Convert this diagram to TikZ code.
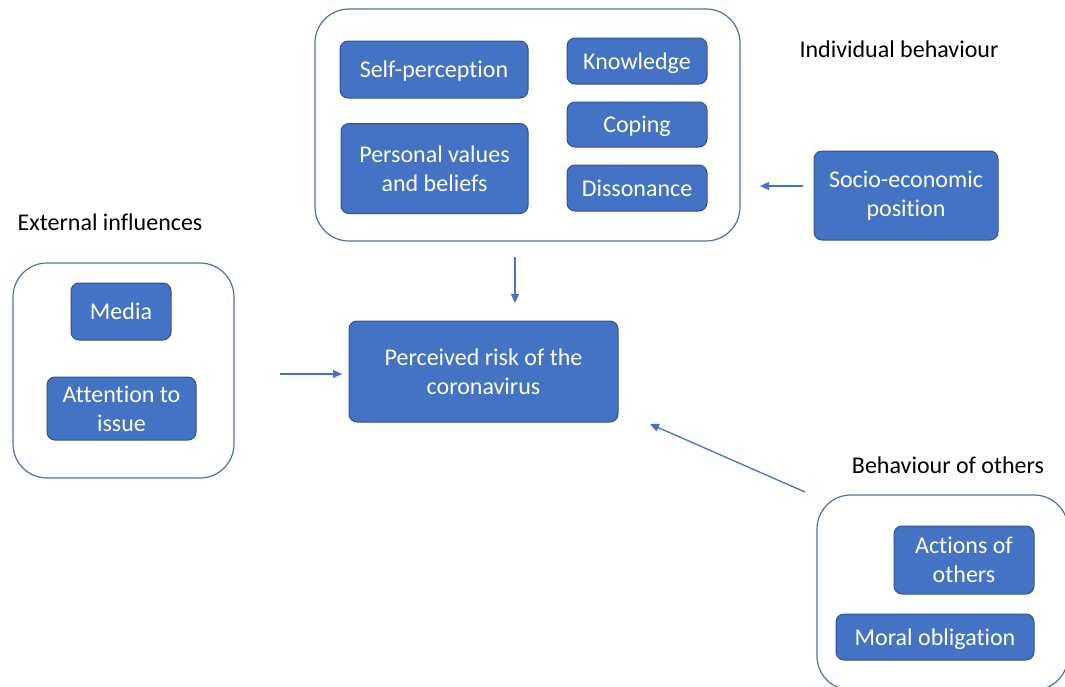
\documentclass[tikz,border=0pt]{standalone}
\usepackage{fontspec}
\setmainfont[Ligatures=NoCommon]{Carlito}
\usetikzlibrary{arrows.meta}
\definecolor{boxfill}{HTML}{4472C4}
\definecolor{boxline}{HTML}{2F528F}
\definecolor{contline}{HTML}{4A6FB0}
\definecolor{arr}{HTML}{4472C4}
\tikzset{
  box/.style={draw=boxline, line width=1pt, fill=boxfill, rounded corners=8pt, text=white,
    font=\fontsize{24}{29}\selectfont, align=center, inner sep=0pt},
  onebox/.style={box, text height=22.8pt, text depth=6.4pt},
  cont/.style={draw=contline, line width=1.2pt, rounded corners=34pt},
  lbl/.style={font=\fontsize{24}{29}\selectfont, text=black, inner sep=0pt,
    text height=22.8pt, text depth=6.4pt},
  conn/.style={draw=arr, line width=1.3pt, -{Triangle[length=9pt,width=8pt]}},
}
\begin{document}
\begin{tikzpicture}[x=1pt,y=-1pt]
\useasboundingbox (0,0) rectangle (1065,686);
\clip (0,0) rectangle (1065,686);
% containers
\draw[cont] (315,9) rectangle (740,241);
\draw[cont] (13,263) rectangle (234,478);
\draw[cont] (817,495) rectangle (1068,690);
% boxes
\node[onebox, minimum width=188pt, minimum height=57pt] (self) at (434,69.5) {Self-perception};
\node[box, minimum width=187pt, minimum height=90pt] (pers) at (434.5,168.5) {Personal values\\and beliefs};
\node[onebox, minimum width=140pt, minimum height=46pt] (know) at (637,61) {Knowledge};
\node[onebox, minimum width=140pt, minimum height=45pt] (cop) at (637,124.5) {Coping};
\node[onebox, minimum width=140pt, minimum height=46pt] (diss) at (637,188) {Dissonance};
\node[box, minimum width=184pt, minimum height=89pt] (socio) at (906,195.5) {Socio-economic\\position};
\node[box, minimum width=269pt, minimum height=101pt] (risk) at (483.5,371.5) {Perceived risk of the\\coronavirus};
\node[onebox, minimum width=100pt, minimum height=57pt] (media) at (121,311.5) {Media};
\node[box, minimum width=149pt, minimum height=63pt] (att) at (121.5,408.5) {Attention to\\issue};
\node[box, minimum width=140pt, minimum height=68pt] (act) at (964,560) {Actions of\\others};
\node[onebox, minimum width=198pt, minimum height=46pt] (moral) at (935,637) {Moral obligation};
% labels
\node[lbl] (lind) at (899,49) {Individual behaviour};
\node[lbl] (lext) at (110,222) {External influences};
\node[lbl] (loth) at (948,465) {Behaviour of others};
% arrow endpoints
\coordinate (a1s) at (803,186); \coordinate (a1e) at (760,186);
\coordinate (a2s) at (515,257); \coordinate (a2e) at (515,303);
\coordinate (a3s) at (280,374); \coordinate (a3e) at (342,374);
\coordinate (a4s) at (805,492); \coordinate (a4e) at (650,424);
\draw[conn] (a1s) -- (a1e);
\draw[conn] (a2s) -- (a2e);
\draw[conn] (a3s) -- (a3e);
\draw[conn] (a4s) -- (a4e);
\end{tikzpicture}
\end{document}
